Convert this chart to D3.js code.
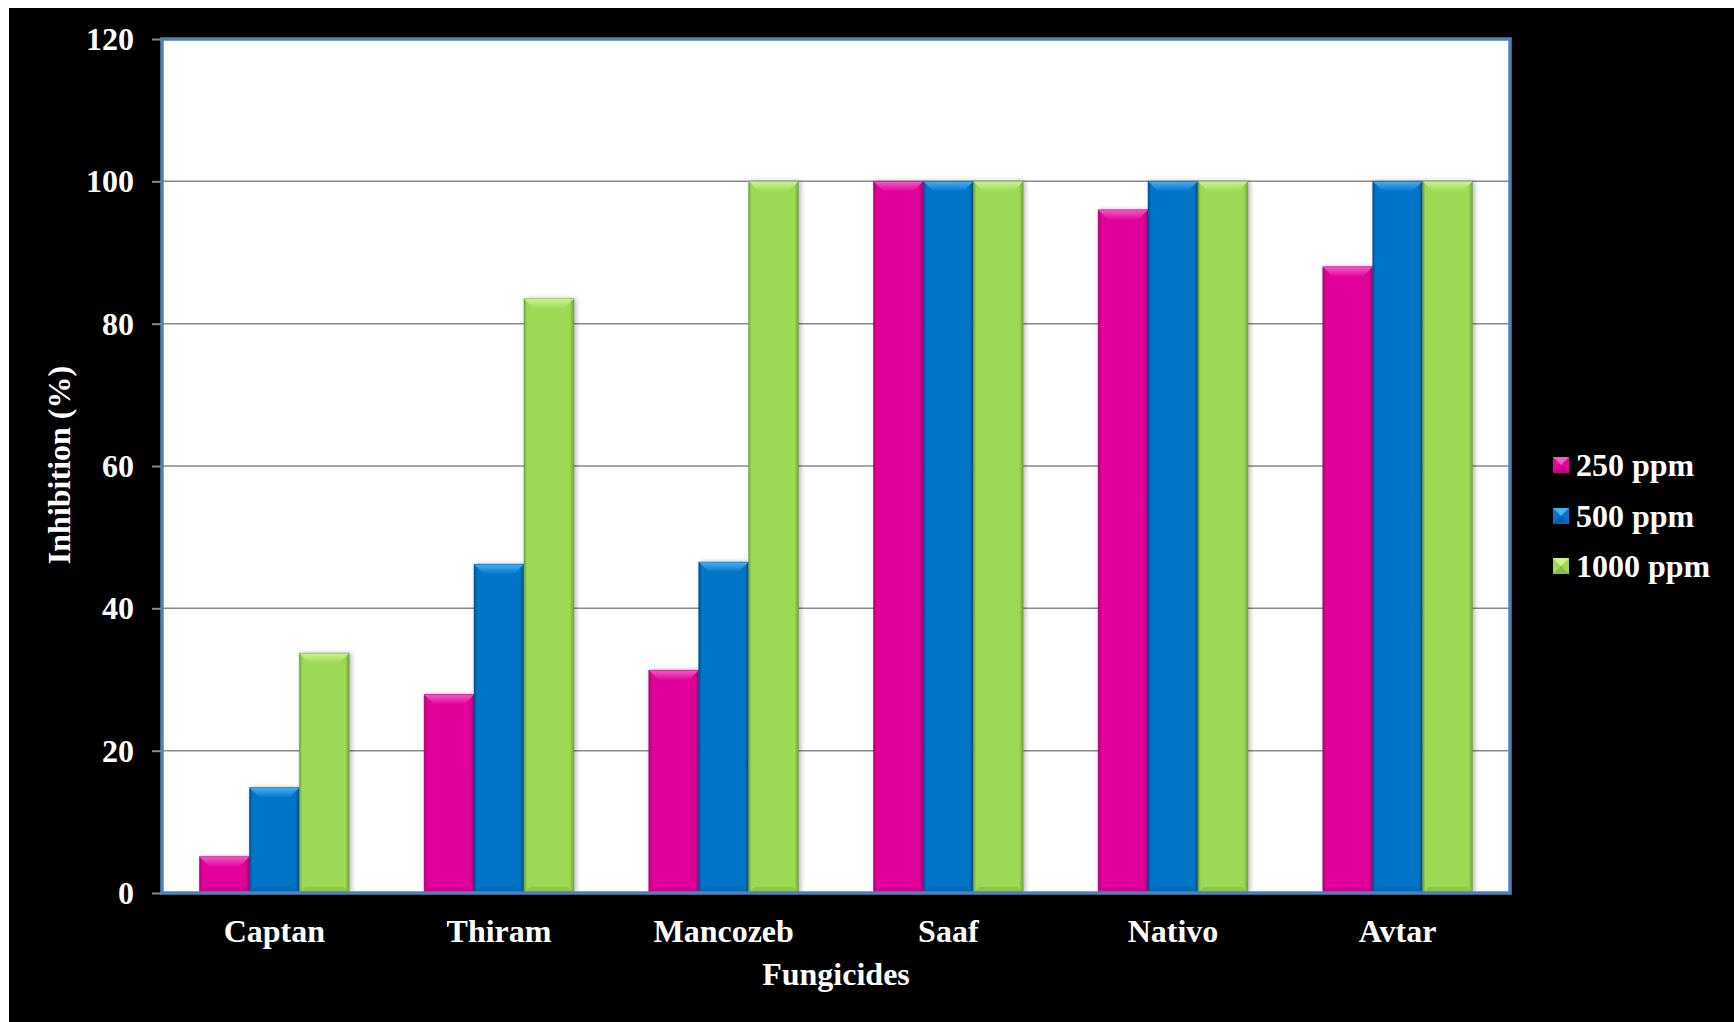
<!DOCTYPE html>
<html>
<head>
<meta charset="utf-8">
<script src="https://cdn.jsdelivr.net/npm/d3@7"></script>
<style>
  html, body { margin: 0; padding: 0; background: #ffffff; }
  svg { display: block; }
  text { font-family: "Liberation Serif", "Times New Roman", serif; font-weight: bold; fill: #ffffff; }
</style>
</head>
<body>
<svg id="chart" width="1734" height="1022"></svg>
<script>
const categories = ["Captan", "Thiram", "Mancozeb", "Saaf", "Nativo", "Avtar"];
const seriesNames = ["250 ppm", "500 ppm", "1000 ppm"];
const values250 = [5.1, 27.9, 31.3, 100, 96, 88];
const values500 = [14.8, 46.2, 46.5, 100, 100, 100];
const values1000 = [33.7, 83.5, 100, 100, 100, 100];
const yTicks = [0, 20, 40, 60, 80, 100, 120];
const xTitle = "Fungicides";
const yTitle = "Inhibition (%)";

const seriesValues = [values250, values500, values1000];
const colors = {
  "250 ppm": { main: "#E1059B", light: "#F35CC6", dark: "#A8036F" },
  "500 ppm": { main: "#0574C8", light: "#45B2F4", dark: "#034F8C" },
  "1000 ppm": { main: "#9CDA56", light: "#CDF58C", dark: "#6FA23A" }
};

const svg = d3.select("#chart");
const W = 1734, H = 1022;
const plot = { left: 162, right: 1510, top: 39, bottom: 893 };

svg.append("rect").attr("x", 0).attr("y", 0).attr("width", W).attr("height", H).attr("fill", "#ffffff");
svg.append("rect").attr("x", 9).attr("y", 8).attr("width", W - 9).attr("height", H - 8).attr("fill", "#000000");

const defs = svg.append("defs");
seriesNames.forEach((s, i) => {
  const c = colors[s];
  const g = defs.append("linearGradient").attr("id", "body" + i).attr("x1", 0).attr("x2", 1).attr("y1", 0).attr("y2", 0);
  g.append("stop").attr("offset", "0%").attr("stop-color", c.dark);
  g.append("stop").attr("offset", "6%").attr("stop-color", c.main);
  g.append("stop").attr("offset", "92%").attr("stop-color", c.main);
  g.append("stop").attr("offset", "100%").attr("stop-color", c.dark);
  const t = defs.append("linearGradient").attr("id", "top" + i).attr("x1", 0).attr("x2", 0).attr("y1", 0).attr("y2", 1);
  t.append("stop").attr("offset", "0%").attr("stop-color", c.light);
  t.append("stop").attr("offset", "100%").attr("stop-color", c.main);
});
const f = defs.append("filter").attr("id", "shadow").attr("x", "-20%").attr("y", "-5%").attr("width", "140%").attr("height", "110%");
f.append("feDropShadow").attr("dx", 2).attr("dy", 0).attr("stdDeviation", 2.5).attr("flood-color", "#000").attr("flood-opacity", 0.3);

// plot background
svg.append("rect").attr("x", plot.left).attr("y", plot.top)
  .attr("width", plot.right - plot.left).attr("height", plot.bottom - plot.top).attr("fill", "#ffffff");

const x0 = d3.scaleBand().domain(categories).range([plot.left, plot.right]).paddingInner(0).paddingOuter(0);
const bw = x0.bandwidth();
const x1 = d3.scaleBand().domain(seriesNames).range([bw * 0.75 / 4.5, bw * 3.75 / 4.5]).padding(0);
const y = d3.scaleLinear().domain([0, 120]).range([plot.bottom, plot.top]);

// gridlines
svg.append("g").selectAll("line").data(yTicks.filter(t => t > 0 && t < 120)).join("line")
  .attr("x1", plot.left).attr("x2", plot.right)
  .attr("y1", d => y(d)).attr("y2", d => y(d))
  .attr("stroke", "#8a8a8a").attr("stroke-width", 1.5);

// bars
const barW = x1.bandwidth();
const bevel = 10;
seriesNames.forEach((s, i) => {
  const vals = seriesValues[i];
  const g = svg.append("g");
  const data = categories.map((c, k) => ({ c, v: vals[k] }));
  const bars = g.selectAll("g.bar").data(data).join("g").attr("class", "bar")
    .attr("transform", d => `translate(${x0(d.c) + x1(s)},0)`);
  bars.append("rect")
    .attr("x", 0).attr("y", d => y(d.v)).attr("width", barW).attr("height", d => y(0) - y(d.v))
    .attr("fill", `url(#body${i})`).attr("filter", "url(#shadow)");
  bars.append("path")
    .attr("d", d => {
      const t = y(d.v), b = Math.min(bevel, (y(0) - y(d.v)) / 2);
      return `M0,${t} L${barW},${t} L${barW - b},${t + b} L${b},${t + b} Z`;
    })
    .attr("fill", `url(#top${i})`);
  bars.append("path")
    .attr("d", d => {
      const bot = y(0), b = Math.min(6, (y(0) - y(d.v)) / 3);
      return `M0,${bot} L${barW},${bot} L${barW - b},${bot - b} L${b},${bot - b} Z`;
    })
    .attr("fill", colors[s].dark).attr("opacity", 0.35);
  bars.append("rect")
    .attr("x", 0).attr("y", d => y(d.v)).attr("width", barW).attr("height", d => y(0) - y(d.v))
    .attr("fill", "none").attr("stroke", colors[s].dark).attr("stroke-width", 0.8).attr("stroke-opacity", 0.6);
});

// bottom axis line
svg.append("line").attr("x1", plot.left).attr("x2", plot.right).attr("y1", y(0)).attr("y2", y(0))
  .attr("stroke", "#8a8a8a").attr("stroke-width", 2);

// plot border
svg.append("rect").attr("x", plot.left).attr("y", plot.top)
  .attr("width", plot.right - plot.left).attr("height", plot.bottom - plot.top)
  .attr("fill", "none").attr("stroke", "#4F81BD").attr("stroke-width", 3.5);

// y axis
const yAxis = d3.axisLeft(y).tickValues(yTicks).tickSize(9).tickPadding(18);
const ya = svg.append("g").attr("transform", `translate(${plot.left - 1},0)`).call(yAxis);
ya.select(".domain").remove();
ya.selectAll(".tick line").attr("stroke", "#8a8a8a").attr("stroke-width", 2);
ya.selectAll(".tick text").attr("font-size", 32).attr("font-family", "Liberation Serif, serif")
  .attr("font-weight", "bold").attr("fill", "#fff").attr("dy", "0.33em");

// x axis labels
const xAxis = d3.axisBottom(x0).tickSize(0).tickPadding(0);
const xa = svg.append("g").attr("transform", `translate(0,${plot.bottom})`).call(xAxis);
xa.select(".domain").remove();
xa.selectAll(".tick text").attr("font-size", 32).attr("font-family", "Liberation Serif, serif")
  .attr("font-weight", "bold").attr("fill", "#fff").attr("y", 49).attr("dy", 0);

// axis titles
svg.append("text").attr("x", (plot.left + plot.right) / 2).attr("y", 985)
  .attr("text-anchor", "middle").attr("font-size", 32).text(xTitle);
svg.append("text").attr("transform", "translate(70,465) rotate(-90)")
  .attr("text-anchor", "middle").attr("font-size", 32).text(yTitle);

// legend
const legendY = [465, 516, 566];
const lg = svg.append("g");
seriesNames.forEach((s, i) => {
  const c = colors[s];
  const gy = legendY[i];
  lg.append("rect").attr("x", 1553).attr("y", gy - 8).attr("width", 16).attr("height", 16).attr("fill", c.main);
  lg.append("path").attr("d", `M1553,${gy - 8} L1569,${gy - 8} L1561,${gy} Z`).attr("fill", c.light);
  lg.append("path").attr("d", `M1553,${gy + 8} L1569,${gy + 8} L1561,${gy} Z`).attr("fill", c.dark).attr("opacity", 0.5);
  lg.append("text").attr("x", 1576).attr("y", gy).attr("dy", "0.35em").attr("font-size", 32).text(s);
});
</script>
</body>
</html>
